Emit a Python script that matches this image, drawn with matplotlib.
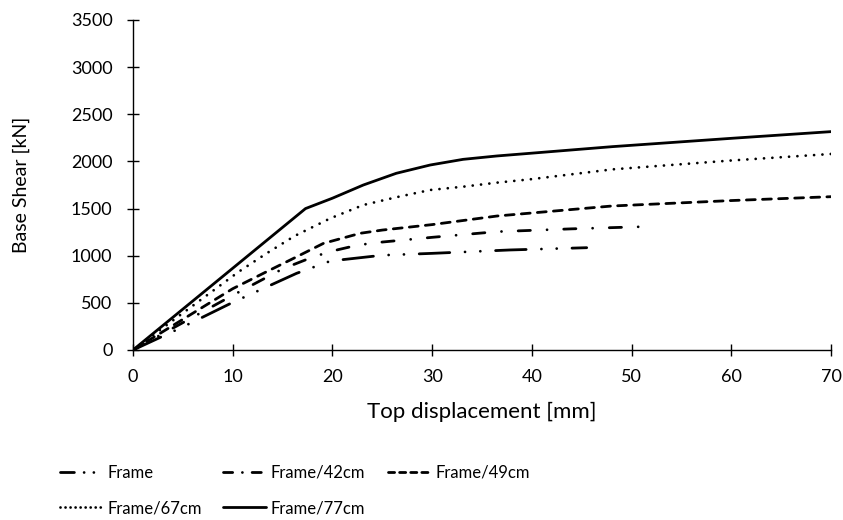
import matplotlib
matplotlib.use("Agg")
import matplotlib.pyplot as plt
from matplotlib.lines import Line2D

plt.rcParams['font.family'] = ['Lato', 'DejaVu Sans']

# Data
disp_frame = [0, 5, 10, 16.4, 19.6, 21, 25, 30, 37.8, 45.5]
shear_frame = [0, 245, 505, 813, 936, 958, 1005, 1025, 1061, 1085]

disp_42 = [0, 10, 15, 18, 20, 22.6, 25, 30, 36.5, 44, 51.2]
shear_42 = [0, 580, 860, 985, 1050, 1114, 1145, 1195, 1255, 1285, 1308]

disp_49 = [0, 10, 13.2, 16.1, 19.1, 22.8, 25, 30, 36.5, 48, 60, 70]
shear_49 = [0, 650, 820, 972, 1131, 1238, 1272, 1330, 1421, 1527, 1585, 1626]

disp_67 = [0, 10.6, 13.4, 16.2, 19.8, 23.1, 26.4, 29.8, 33.1, 36.5, 39.8, 48.1, 60, 70]
shear_67 = [0, 830, 1025, 1209, 1397, 1538, 1620, 1697, 1732, 1775, 1810, 1916, 2010, 2079]

disp_77 = [0, 17.3, 20, 23.1, 26.4, 29.8, 33.1, 36.5, 39.8, 48.1, 60, 70]
shear_77 = [0, 1500, 1610, 1750, 1874, 1962, 2022, 2058, 2086, 2157, 2245, 2316]

labels = ['Frame', 'Frame/42cm', 'Frame/49cm', 'Frame/67cm', 'Frame/77cm']
x_ticks = [0, 10, 20, 30, 40, 50, 60, 70]
y_ticks = [0, 500, 1000, 1500, 2000, 2500, 3000, 3500]

W, H = 843, 520
fig = plt.figure(figsize=(W/100, H/100), dpi=100)
ax = fig.add_axes([133/W, 1-350/H, (831-133)/W, (350-20)/H])

lw = 2.0
plot_styles = [
    (0, (11, 5.5, 0.01, 5.5, 0.01, 5.5)),
    (0, (4.4, 6, 0.01, 6)),
    (0, (3.2, 2.6)),
    (0, (0.01, 3)),
    '-',
]
legend_styles = [
    (0, (5, 3.5, 0.01, 3.5, 0.01, 3.5)),
    (0, (3.3, 3.5, 0.01, 3.5)),
    (0, (2.2, 1.8)),
    (0, (0.01, 1.8)),
    '-',
]
data = [(disp_frame, shear_frame), (disp_42, shear_42), (disp_49, shear_49),
        (disp_67, shear_67), (disp_77, shear_77)]

for (xd, yd), ls, lab in zip(data, plot_styles, labels):
    ax.plot(xd, yd, color='black', lw=lw, linestyle=ls,
            dash_capstyle='round', solid_capstyle='round', label=lab)

ax.set_xlim(0, 70)
ax.set_ylim(0, 3500)
ax.set_xticks(x_ticks)
ax.set_yticks(y_ticks)
for s in ['top', 'right']:
    ax.spines[s].set_visible(False)
for s in ['left', 'bottom']:
    ax.spines[s].set_color('black')
    ax.spines[s].set_linewidth(1.0)
ax.tick_params(direction='inout', length=8.5, width=1.0, labelsize=13, colors='black')
ax.tick_params(axis='y', pad=10.5)
ax.tick_params(axis='x', pad=9.5)

ax.set_xlabel('Top displacement [mm]', fontsize=16)
ax.set_ylabel('Base Shear [kN]', fontsize=14)
ax.xaxis.set_label_coords(0.5, -(402-350)/330)
ax.yaxis.set_label_coords(-(133-30)/698, 0.5)

handles = [Line2D([], [], color='black', lw=lw, linestyle=ls,
                  dash_capstyle='round', solid_capstyle='round')
           for ls in legend_styles]

# legend columns (row-major order as in the reference)
columns = [([0, 3], 60), ([1, 4], 223), ([2], 388)]
for idx, x0 in columns:
    leg = fig.legend([handles[i] for i in idx], [labels[i] for i in idx],
                     loc='upper left', bbox_to_anchor=(x0/W, 1-465/H),
                     frameon=False, fontsize=12, handlelength=43/(12*1.39),
                     handletextpad=0.3, labelspacing=1.15,
                     borderaxespad=0, borderpad=0)

fig.savefig('out.png', dpi=100)
